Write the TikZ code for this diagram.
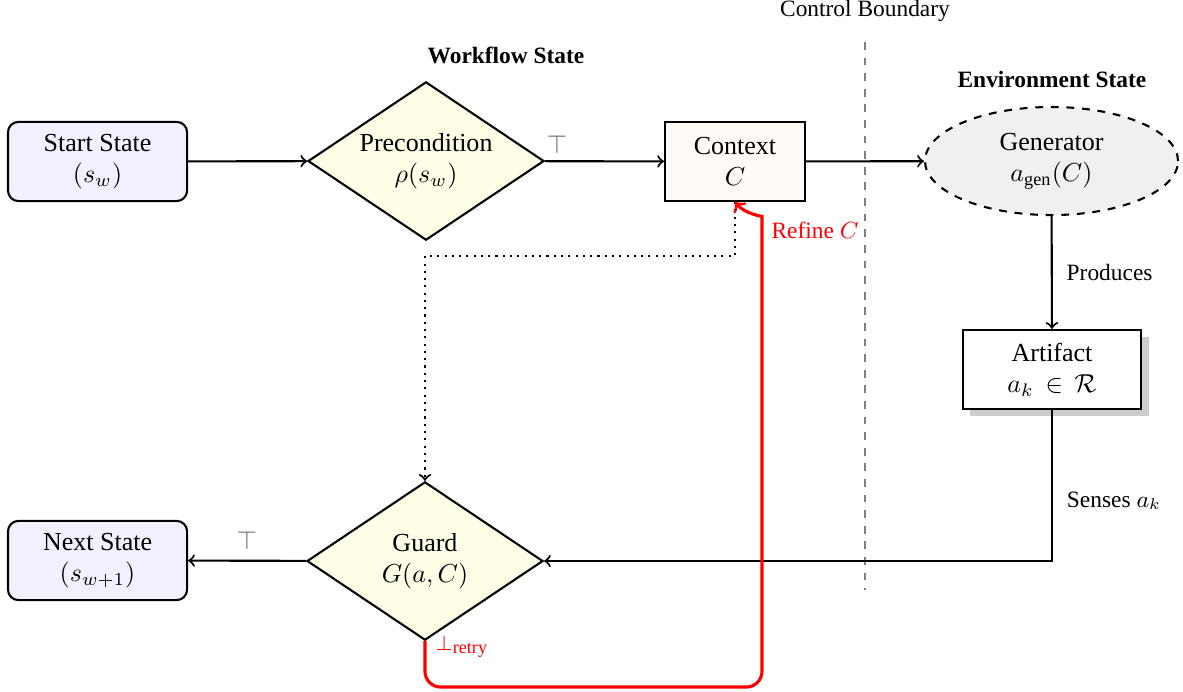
\documentclass[tikz,border=0pt]{standalone}
\usepackage{fontspec}
\setmainfont{Liberation Serif}
\usetikzlibrary{shapes.geometric,shadows}
\begin{document}
\begin{tikzpicture}[>=to,thick,
  statebox/.style={rectangle,rounded corners=4pt,draw=black,fill=blue!6,minimum width=2.42cm,minimum height=1.07cm,align=center},
  checkbox/.style={diamond,aspect=1.5,draw=black,fill=yellow!10,minimum width=3.19cm,minimum height=2.14cm,inner sep=0pt,align=center},
  lbl/.style={font=\small}]
\useasboundingbox (0,0) rectangle (15.986,-9.351);
\node (start) at (1.318,-2.182)[statebox]{Start State\\$(s_w)$};
\node (pre) at (5.757,-2.176)[checkbox]{Precondition\\$\rho(s_w)$};
\node (ctx) at (9.932,-2.182)[rectangle,draw=black,fill=orange!4,minimum width=1.89cm,minimum height=1.07cm,align=center]{Context\\$C$};
\node (gen) at (14.209,-2.176)[ellipse,dashed,draw=black,fill=gray!12,minimum width=3.42cm,minimum height=1.46cm,align=center]{Generator\\$a_{\mathrm{gen}}(C)$};
\node (art) at (14.216,-4.993)[rectangle,draw=black,fill=white,minimum width=2.41cm,minimum height=1.07cm,align=center,
  drop shadow={shadow xshift=0.1cm,shadow yshift=-0.1cm,fill=gray!40,opacity=1}]{Artifact\\$a_k\,\in\,\mathcal{R}$};
\node (next) at (1.318,-7.574)[statebox]{Next State\\$(s_{w+1})$};
\node (guard) at (5.743,-7.581)[checkbox]{Guard\\$G(a,C)$};

% titles and boundary
\node (wf) at (6.838,-0.743)[lbl]{\bfseries Workflow State};
\node (env) at (14.216,-1.068)[lbl]{\bfseries Environment State};
\node (cb) at (11.689,-0.149)[lbl]{Control Boundary};
\coordinate (cbtop) at (11.689,-0.568);
\coordinate (cbbot) at (11.689,-7.973);
\draw[dashed,gray,semithick] (cbtop)--(cbbot);

\draw[->] (start)--(pre);
\draw[->] (pre)--(ctx);
\node (t1) at (7.527,-1.946)[text=black!60]{$\top$};
\draw[->] (ctx)--(gen);
\draw[->] (gen)--node[right,lbl,xshift=2pt]{Produces}(art);
\draw[->] (art.south) |- node[pos=0.3,right,lbl,xshift=2pt]{Senses $a_k$}(guard.east);
\draw[->] (guard)--(next);
\node (t2) at (3.338,-7.297)[text=black!60]{$\top$};

% context feeds guard
\coordinate (dj) at (5.743,-3.459);
\draw[dotted,->] (ctx.south) |- (dj)--(guard.north);

% retry loop
\coordinate (rb) at (10.297,-9.284);
\coordinate (ru) at (10.297,-3.135);
\draw[red,line width=1.2pt,->,rounded corners=6pt] (guard.south) |- (rb)--(ru) to[out=90,in=-50] (ctx.south);
\node (refine) at (11.014,-3.108)[lbl,text=red]{Refine $C$};
\node (retry) at (6.243,-8.743)[text=red,font=\footnotesize]{$\bot_{\mbox{\scriptsize retry}}$};
\end{tikzpicture}
\end{document}
